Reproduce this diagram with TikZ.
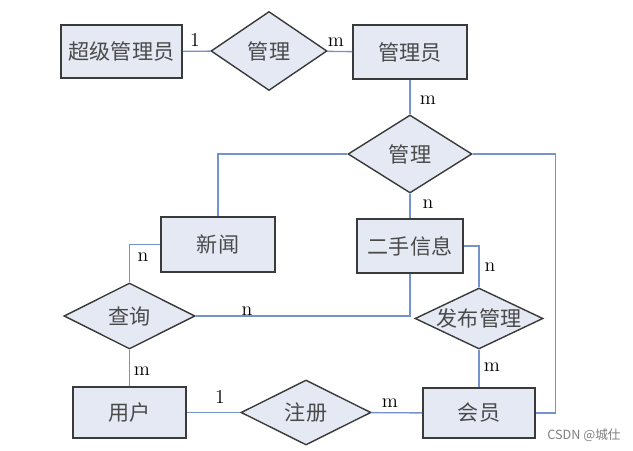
\documentclass[tikz,border=0pt]{standalone}
\usepackage{fontspec}
\setmainfont{Noto Sans CJK SC}
\newfontfamily\latin{Latin Modern Roman}
\usepackage{tikz}
\usetikzlibrary{shapes.geometric}
\definecolor{boxfill}{HTML}{E4E9F4}
\definecolor{boxline}{HTML}{3A3A3A}
\definecolor{linkline}{HTML}{7492CC}
\definecolor{boxtext}{HTML}{4A4A4A}
\newcommand{\upx}{0.025cm}
\begin{document}
\begin{tikzpicture}[x=\upx,y=-\upx,
    ent/.style={draw=boxline,line width=1.3pt,fill=boxfill,text=boxtext,inner sep=0pt,font=\fontsize{15}{18}\selectfont},
    rel/.style={diamond,draw=boxline,line width=1pt,fill=boxfill,text=boxtext,inner sep=0pt,font=\fontsize{15}{18}\selectfont},
    link/.style={draw=linkline,line width=1pt},
    card/.style={font=\latin\fontsize{14}{16}\selectfont,inner sep=0pt}]
            \useasboundingbox[fill=white] (0,0) rectangle (633,451);
            \node (SA) at (121.5,51.5)[ent,minimum width=121*\upx,minimum height=53*\upx] {超级管理员};
            \node (G1) at (269,51)[rel,minimum width=116*\upx,minimum height=79*\upx] {管理};
            \node (GLY) at (410,52)[ent,minimum width=114*\upx,minimum height=54*\upx] {管理员};
            \node (G2) at (410,154)[rel,minimum width=124*\upx,minimum height=78*\upx] {管理};
            \node (XW) at (218,244.5)[ent,minimum width=114*\upx,minimum height=55*\upx] {新闻};
            \node (ES) at (410,246)[ent,minimum width=106*\upx,minimum height=54*\upx] {二手信息};
            \node (CX) at (129.5,316)[rel,minimum width=131*\upx,minimum height=66*\upx] {查询};
            \node (FB) at (479,318.5)[rel,aspect=2.1,minimum width=128*\upx,minimum height=61*\upx] {发布管理};
            \node (YH) at (129.5,412.5)[ent,minimum width=113*\upx,minimum height=51*\upx] {用户};
            \node (ZC) at (306,412.5)[rel,minimum width=130*\upx,minimum height=65*\upx] {注册};
            \node (HY) at (479,413)[ent,minimum width=112*\upx,minimum height=50*\upx] {会员};
            \coordinate (R) at (555.5,413);
            \draw[link] (SA) -- (G1);
            \draw[link] (G1) -- (GLY);
            \draw[link] (GLY) -- (G2);
            \draw[link] (G2.west) -| (XW.north);
            \draw[link] (G2.east) -| (R) -- (HY.east);
            \draw[link] (G2) -- (ES);
            \draw[link] (XW.west) -| (CX.north);
            \draw[link] (CX.east) -| (ES.south);
            \draw[link] (ES.east) -| (FB.north);
            \draw[link] (CX) -- (YH);
            \draw[link] (YH) -- (ZC);
            \draw[link] (ZC) -- (HY);
            \draw[link] (FB) -- (HY);
            \node (L1) at (195,40)[card] {1};
            \node (L2) at (336,42)[card] {m};
            \node (L3) at (428,100)[card] {m};
            \node (L4) at (428,204)[card] {n};
            \node (L5) at (143,257)[card] {n};
            \node (L6) at (247,311)[card] {n};
            \node (L7) at (490,267)[card] {n};
            \node (L8) at (142,371)[card] {m};
            \node (L9) at (220,397)[card] {1};
            \node (L10) at (390,403)[card] {m};
            \node (L11) at (492,367)[card] {m};
            \node (WM) at (584,435)[text=gray,inner sep=0pt,font=\fontsize{9}{11}\selectfont] {CSDN @城仕};
        \end{tikzpicture}
\end{document}
